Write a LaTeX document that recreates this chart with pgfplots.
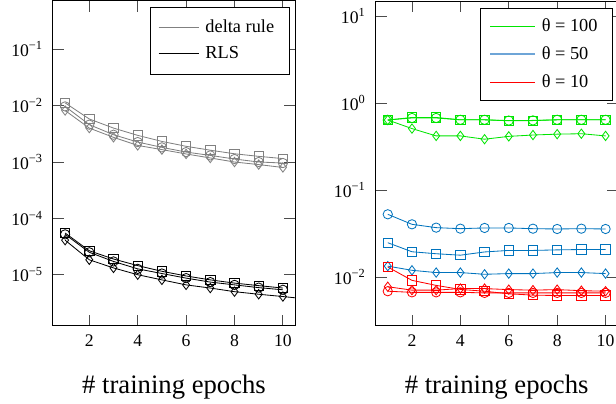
\documentclass[border=0pt]{standalone}
\usepackage{fontspec}
\setmainfont{Liberation Serif}
\usepackage{pgfplots}
\pgfplotsset{compat=1.18}

\definecolor{dgray}{gray}{0.5}
\definecolor{tgreen}{rgb}{0,0.9,0}
\definecolor{tblue}{rgb}{0,0.45,0.74}
\definecolor{tbluel}{RGB}{110,165,215}
\definecolor{tred}{rgb}{1,0,0}

\begin{document}
\begin{tikzpicture}
  % left panel: delta rule vs RLS
  \begin{axis}[
    name=L,
    at={(0,0)},
    scale only axis,
    width=145.2pt, height=195pt,
    xmin=0.5, xmax=10.5,
    xtick={2,4,6,8,10},
    ymode=log,
    yminorticks=false,
    ymin=1.23e-6, ymax=0.72,
    ytick={1e-5,1e-4,1e-3,1e-2,1e-1},
    yticklabels={10\textsuperscript{−5},10\textsuperscript{−4},10\textsuperscript{−3},10\textsuperscript{−2},10\textsuperscript{−1}},
    /pgf/number format/assume math mode=true,
    axis line style={line width=0.6pt},
    tick style={black!70, line width=0.5pt},
    major tick length=6.5pt,
    tick label style={font=\fontsize{10.6}{12}\selectfont},
    yticklabel style={xshift=-2.5pt},
    xticklabel style={yshift=-2pt},
    xlabel={\# training epochs},
    xlabel style={font=\fontsize{16}{18}\selectfont,
      at={(axis description cs:0.5,0)}, anchor=base, yshift=-40.8pt},
    legend cell align=left,
    legend image code/.code={\draw[#1] (0pt,0pt) -- (24pt,0pt);},
    legend style={at={(0.976,0.982)}, anchor=north east,
      font=\fontsize{11}{13}\selectfont,
      inner xsep=5pt, inner ysep=4pt,
      nodes={inner xsep=3.8pt, inner ysep=2pt, text height=9pt, text depth=3pt}},
    ]
    % delta rule
    \addplot[dgray, line width=0.5pt, mark size=2.8pt, mark options={solid}, mark=square, forget plot] coordinates {
      (1,0.0112) (2,0.0058) (3,0.0040) (4,0.00297) (5,0.00232)
      (6,0.0019) (7,0.00162) (8,0.0014) (9,0.00126) (10,0.00115)
    };
    \addplot[dgray, line width=0.5pt, mark size=2.8pt, mark options={solid}, mark=o, forget plot] coordinates {
      (1,0.0097) (2,0.0046) (3,0.00305) (4,0.00226) (5,0.00182)
      (6,0.0015) (7,0.00131) (8,0.00113) (9,0.0010) (10,0.00096)
    };
    \addplot[dgray, line width=0.5pt, mark size=2.8pt, mark options={solid}, mark=diamond, forget plot] coordinates {
      (1,0.0082) (2,0.0040) (3,0.00274) (4,0.00197) (5,0.00166)
      (6,0.00139) (7,0.00118) (8,0.0010) (9,0.0009) (10,0.0008)
    };
    % RLS
    \addplot[black, line width=0.5pt, mark size=2.8pt, mark options={solid}, mark=square, forget plot] coordinates {
      (1,5.5e-5) (2,2.66e-5) (3,1.9e-5) (4,1.45e-5) (5,1.15e-5)
      (6,9.5e-6) (7,8.1e-6) (8,7.1e-6) (9,6.4e-6) (10,5.8e-6)
    };
    \addplot[black, line width=0.5pt, mark size=2.8pt, mark options={solid}, mark=o, forget plot] coordinates {
      (1,5.2e-5) (2,2.5e-5) (3,1.72e-5) (4,1.27e-5) (5,1.05e-5)
      (6,8.7e-6) (7,7.4e-6) (8,6.6e-6) (9,5.9e-6) (10,5.4e-6)
    };
    \addplot[black, line width=0.5pt, mark size=2.8pt, mark options={solid}, mark=diamond, forget plot] coordinates {
      (1,4.1e-5) (2,1.84e-5) (3,1.32e-5) (4,1.0e-5) (5,8.1e-6)
      (6,6.6e-6) (7,5.8e-6) (8,5.0e-6) (9,4.5e-6) (10,4.1e-6) (11,3.7e-6)
    };
    \addlegendimage{dgray, line width=0.5pt}
    \addlegendentry{delta rule}
    \addlegendimage{black, line width=0.5pt}
    \addlegendentry{RLS}
  \end{axis}

  % right panel: theta
  \begin{axis}[
    name=R,
    at={(193.6pt,0)},
    scale only axis,
    width=145.2pt, height=195pt,
    xmin=0.5, xmax=10.5,
    xtick={2,4,6,8,10},
    ymode=log,
    yminorticks=false,
    ymin=2.75e-3, ymax=14.9,
    ytick={1e-2,1e-1,1,10},
    yticklabels={10\textsuperscript{−2},10\textsuperscript{−1},10\textsuperscript{0},10\textsuperscript{1}},
    /pgf/number format/assume math mode=true,
    axis line style={line width=0.6pt},
    tick style={black!70, line width=0.5pt},
    major tick length=6.5pt,
    tick label style={font=\fontsize{10.6}{12}\selectfont},
    yticklabel style={xshift=-2.5pt},
    xticklabel style={yshift=-2pt},
    xlabel={\# training epochs},
    xlabel style={font=\fontsize{16}{18}\selectfont,
      at={(axis description cs:0.5,0)}, anchor=base, yshift=-40.8pt},
    legend cell align=left,
    legend image code/.code={\draw[#1] (0pt,0pt) -- (26.8pt,0pt);},
    legend style={at={(0.979,0.978)}, anchor=north east,
      font=\fontsize{11}{13}\selectfont,
      inner xsep=5.2pt, inner ysep=2.5pt,
      nodes={inner xsep=3.6pt, inner ysep=2pt, text height=9.3pt, text depth=3.4pt}},
    ]
    % theta = 100
    \addplot[tgreen, line width=0.5pt, mark size=2.8pt, mark options={solid}, mark=square, forget plot] coordinates {
      (1,0.64) (2,0.684) (3,0.684) (4,0.643) (5,0.643)
      (6,0.626) (7,0.63) (8,0.643) (9,0.643) (10,0.643)
    };
    \addplot[tgreen, line width=0.5pt, mark size=2.8pt, mark options={solid}, mark=o, forget plot] coordinates {
      (1,0.64) (2,0.675) (3,0.675) (4,0.643) (5,0.643)
      (6,0.63) (7,0.633) (8,0.643) (9,0.643) (10,0.643)
    };
    \addplot[tgreen, line width=0.5pt, mark size=2.8pt, mark options={solid}, mark=diamond, forget plot] coordinates {
      (1,0.64) (2,0.51) (3,0.42) (4,0.42) (5,0.385)
      (6,0.415) (7,0.43) (8,0.44) (9,0.445) (10,0.42)
    };
    % theta = 50
    \addplot[tblue, line width=0.5pt, mark size=2.8pt, mark options={solid}, mark=o, forget plot] coordinates {
      (1,0.0528) (2,0.0405) (3,0.0371) (4,0.0361) (5,0.0368)
      (6,0.0368) (7,0.0361) (8,0.0358) (9,0.0361) (10,0.0358)
    };
    \addplot[tblue, line width=0.5pt, mark size=2.8pt, mark options={solid}, mark=square, forget plot] coordinates {
      (1,0.0249) (2,0.0196) (3,0.0186) (4,0.0179) (5,0.0195)
      (6,0.0203) (7,0.0203) (8,0.0206) (9,0.0208) (10,0.0208)
    };
    \addplot[tblue, line width=0.5pt, mark size=2.8pt, mark options={solid}, mark=diamond, forget plot] coordinates {
      (1,0.0134) (2,0.0120) (3,0.0113) (4,0.0113) (5,0.0108)
      (6,0.0110) (7,0.0110) (8,0.0113) (9,0.0113) (10,0.0110)
    };
    % theta = 10
    \addplot[tred, line width=0.5pt, mark size=2.8pt, mark options={solid}, mark=square, forget plot] coordinates {
      (1,0.0131) (2,0.0092) (3,0.00805) (4,0.00724) (5,0.0069)
      (6,0.00645) (7,0.00622) (8,0.00616) (9,0.00616) (10,0.00616)
    };
    \addplot[tred, line width=0.5pt, mark size=2.8pt, mark options={solid}, mark=diamond, forget plot] coordinates {
      (1,0.00777) (2,0.0071) (3,0.0071) (4,0.0074) (5,0.0074)
      (6,0.0072) (7,0.0071) (8,0.0072) (9,0.0070) (10,0.0069)
    };
    \addplot[tred, line width=0.5pt, mark size=2.8pt, mark options={solid}, mark=o, forget plot] coordinates {
      (1,0.0069) (2,0.0067) (3,0.0067) (4,0.0067) (5,0.0066)
      (6,0.0066) (7,0.0066) (8,0.0066) (9,0.0066) (10,0.0066)
    };
    \addlegendimage{tgreen, line width=0.5pt}
    \addlegendentry{θ = 100}
    \addlegendimage{tbluel, line width=1.2pt}
    \addlegendentry{θ = 50}
    \addlegendimage{tred, line width=0.5pt}
    \addlegendentry{θ = 10}
  \end{axis}

  \pgfresetboundingbox
  \path[use as bounding box] (-31.8pt,195.6pt) rectangle (337.8pt,-46.8pt);
\end{tikzpicture}
\end{document}
